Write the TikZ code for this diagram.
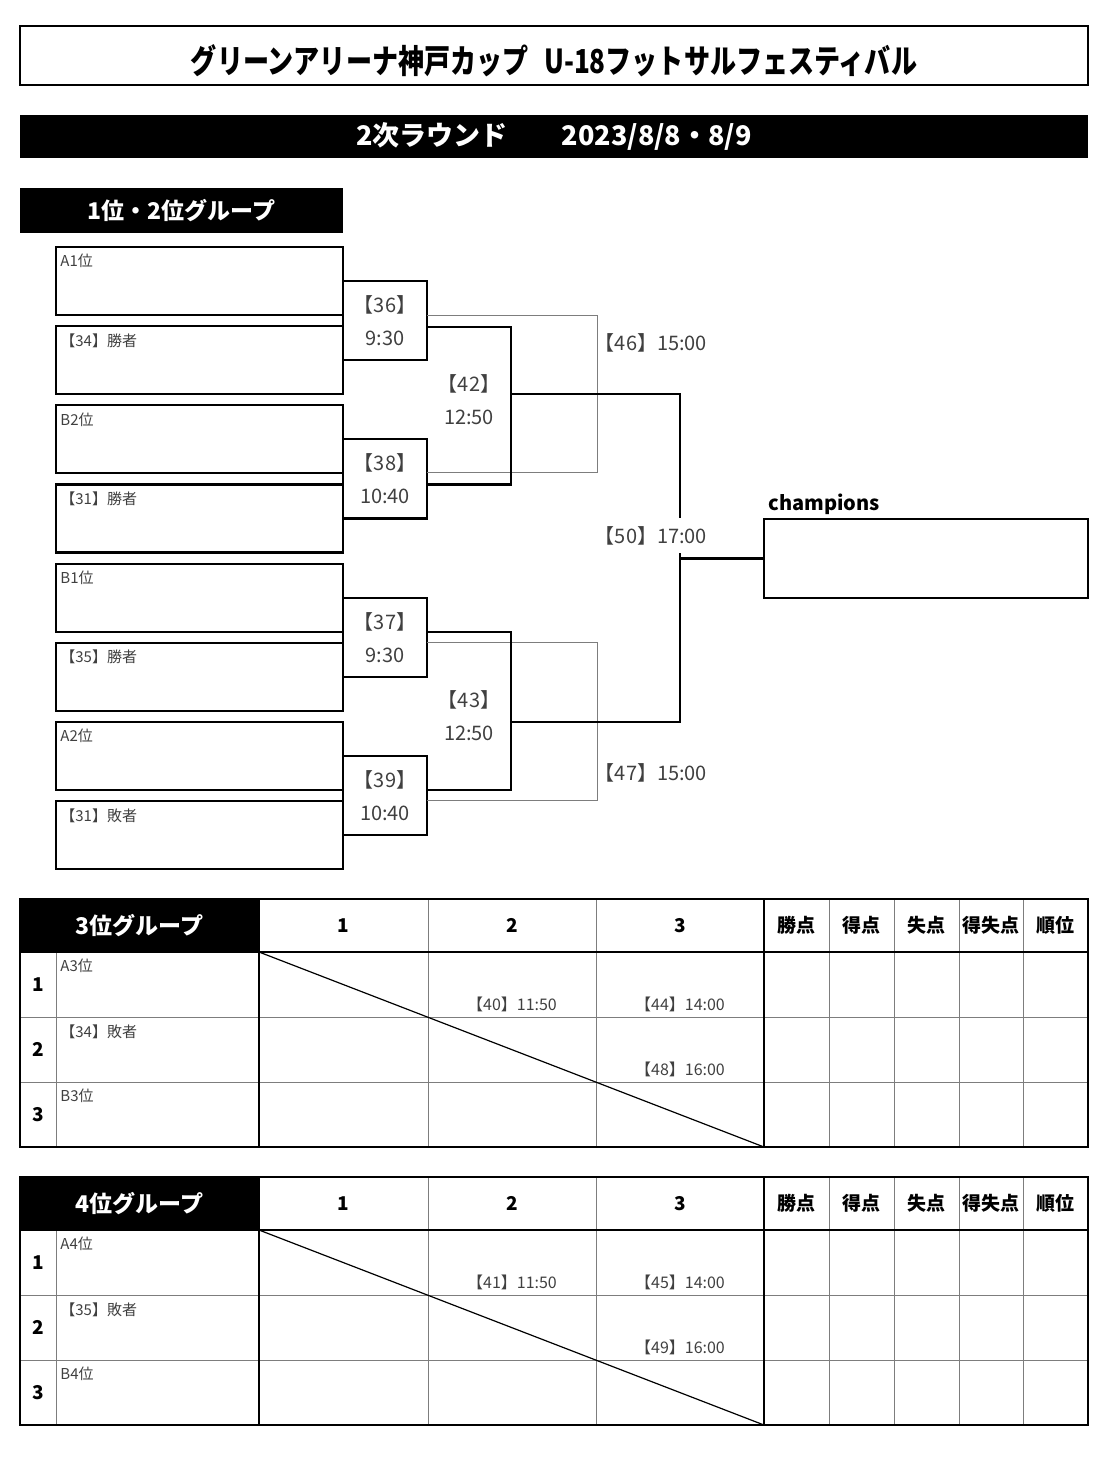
\documentclass[tikz,border=0pt]{standalone}
\usepackage{fontspec}
\setmainfont{Noto Sans CJK JP}
\usepackage{graphicx}
\usepackage{xcolor}
\definecolor{label-gray}{RGB}{64,64,64}
\definecolor{rule-gray}{RGB}{125,125,125}
\usepackage{tikz}
\usetikzlibrary{calc}

\begin{document}
\begin{tikzpicture}[x=0.5pt,y=-0.5pt,
	teambox/.style={draw,line width=1.1pt,anchor=north west,inner sep=0pt,outer sep=0pt,
		minimum width=143.5pt,minimum height=34pt},
	teamlabel/.style={anchor=north west,inner sep=2pt,yshift=-1.5pt,text=label-gray,
		font=\fontsize{7.5}{9}\selectfont},
	matchbox/.style={draw,line width=1.1pt,anchor=west,outer sep=0pt,minimum width=42pt,
		minimum height=39.6pt,align=center,text=label-gray,font=\fontsize{10}{16.5}\selectfont},
	matchlabel/.style={align=center,text=label-gray,font=\fontsize{10}{16.5}\selectfont},
	bracket/.style={line width=1.1pt},
	loserline/.style={line width=0.5pt,rule-gray},
	gridline/.style={line width=0.5pt,rule-gray},
	headbar/.style={fill=black,text=white,inner sep=0pt,font=\bfseries\fontsize{11.5}{14}\selectfont},
	colhead/.style={font=\bfseries\fontsize{9.5}{11}\selectfont},
	cellmatch/.style={text=label-gray,font=\fontsize{8}{10}\selectfont},
	]
	
	\useasboundingbox (0,0) rectangle (1110,1476);
	
	% headings
	\node[draw,line width=1.1pt,minimum width=534pt,minimum height=29.5pt,
		font=\bfseries\fontsize{16.5}{20}\selectfont] (title) at (554,55.5)
		{\raisebox{-2.5pt}[\height][\depth]{\scalebox{.79}[1]{グリーンアリーナ神戸カップ\hspace{.6em}U-18フットサルフェスティバル}}};
	\node[headbar,minimum width=534pt,minimum height=21.5pt,
		font=\bfseries\fontsize{13.5}{16}\selectfont] (round) at (554,136.5)
		{2次ラウンド　　2023/8/8・8/9};
	\node[headbar,minimum width=161.5pt,minimum height=22.5pt] (grp12) at (181.5,210.5)
		{1位・2位グループ};
	
	% entries
	\node[teambox,label={[teamlabel]north west:A1位}] (a1) at (56,247) {};
	\node[teambox,label={[teamlabel]north west:{【34】勝者}}] (w34) at (56,326.2) {};
	\node[teambox,label={[teamlabel]north west:B2位}] (b2) at (56,405.3) {};
	\node[teambox,label={[teamlabel]north west:{【31】勝者}}] (w31) at (56,484.5) {};
	\node[teambox,label={[teamlabel]north west:B1位}] (b1) at (56,563.6) {};
	\node[teambox,label={[teamlabel]north west:{【35】勝者}}] (w35) at (56,642.8) {};
	\node[teambox,label={[teamlabel]north west:A2位}] (a2) at (56,721.9) {};
	\node[teambox,label={[teamlabel]north west:{【31】敗者}}] (l31) at (56,801) {};
	
	% first games
	\node[matchbox] (m36) at ($(a1.east)!.5!(w34.east)$) {【36】\\9:30};
	\node[matchbox] (m38) at ($(b2.east)!.5!(w31.east)$) {【38】\\10:40};
	\node[matchbox] (m37) at ($(b1.east)!.5!(w35.east)$) {【37】\\9:30};
	\node[matchbox] (m39) at ($(a2.east)!.5!(l31.east)$) {【39】\\10:40};
	
	\coordinate (out42) at (511,394); % winner of 42
	\coordinate (out43) at (511,722); % winner of 43
	\coordinate (turn46) at (597,394); % losers of 36 and 38
	\coordinate (turn47) at (597,722); % losers of 37 and 39
	\coordinate (top50) at (680,518);
	\coordinate (bot50) at (680,553);
	
	\draw[loserline] ($(m36.east)+(0,-5.5)$) -| (turn46) |- ($(m38.east)+(0,-6.5)$);
	\draw[loserline] ($(m37.east)+(0,5.5)$) -| (turn47) |- ($(m39.east)+(0,5.5)$);
	
	\draw[bracket] ($(m36.east)+(0,6.5)$) -| (out42) |- ($(m38.east)+(0,5.5)$);
	\draw[bracket] ($(m37.east)+(0,-5.5)$) -| (out43) |- ($(m39.east)+(0,-5.5)$);
	
	\node[matchlabel] (m42) at (469,399.5) {【42】\\12:50};
	\node[matchlabel] (m43) at (469,716) {【43】\\12:50};
	
	% final
	\node[draw,line width=1.1pt,anchor=north west,outer sep=0pt,minimum width=162pt,
		minimum height=39.5pt,label={[anchor=south west,inner sep=1pt,xshift=1pt,yshift=1pt,
		font=\bfseries\fontsize{10}{12}\selectfont]north west:champions}] (champ) at (764,519) {};
	
	\draw[bracket] (out42) -| (top50);
	\draw[bracket] (out43) -| (bot50);
	\draw[bracket] (champ.west) -- (champ.west -| bot50);
	
	\node[matchlabel] (m46) at (651,343) {【46】15:00};
	\node[matchlabel] (m50) at (651,536) {【50】17:00};
	\node[matchlabel] (m47) at (651,773) {【47】15:00};
	
	% 3rd place group
	\node[headbar,minimum width=119.5pt,minimum height=26.5pt] (grp3) at (139.5,925.5) {3位グループ};
	\draw[gridline] (56,952) -- (56,1147) (428,899) -- (428,1147) (596,899) -- (596,1147)
		(829,899) -- (829,1147) (894,899) -- (894,1147) (959,899) -- (959,1147)
		(1023,899) -- (1023,1147) (20,1017) -- (1088,1017) (20,1082) -- (1088,1082);
	\draw[line width=0.6pt] (259,952) -- (764,1147);
	\draw[line width=1.1pt] (20,899) rectangle (1088,1147) (259,899) -- (259,1147)
		(764,899) -- (764,1147) (20,952) -- (1088,952);
	
	\node[colhead] (c3-1) at (343.5,925.5) {1};
	\node[colhead] (c3-2) at (512,925.5) {2};
	\node[colhead] (c3-3) at (680,925.5) {3};
	\node[colhead] (c3-pts) at (796.5,925.5) {勝点};
	\node[colhead] (c3-gf) at (861.5,925.5) {得点};
	\node[colhead] (c3-ga) at (926.5,925.5) {失点};
	\node[colhead] (c3-gd) at (991,925.5) {得失点};
	\node[colhead] (c3-rk) at (1055.5,925.5) {順位};
	
	\node[colhead] (r3-1) at (38,984.5) {1};
	\node[colhead] (r3-2) at (38,1049.5) {2};
	\node[colhead] (r3-3) at (38,1114.5) {3};
	\node[teamlabel] (p3-1) at (56,952) {A3位};
	\node[teamlabel] (p3-2) at (56,1017) {【34】敗者};
	\node[teamlabel] (p3-3) at (56,1082) {B3位};
	
	\node[cellmatch] (g40) at (512,1004) {【40】11:50};
	\node[cellmatch] (g44) at (680,1004) {【44】14:00};
	\node[cellmatch] (g48) at (680,1069) {【48】16:00};
	
	% 4th place group
	\node[headbar,minimum width=119.5pt,minimum height=26.5pt] (grp4) at (139.5,1203.5) {4位グループ};
	\draw[gridline] (56,1230) -- (56,1425) (428,1177) -- (428,1425) (596,1177) -- (596,1425)
		(829,1177) -- (829,1425) (894,1177) -- (894,1425) (959,1177) -- (959,1425)
		(1023,1177) -- (1023,1425) (20,1295) -- (1088,1295) (20,1360) -- (1088,1360);
	\draw[line width=0.6pt] (259,1230) -- (764,1425);
	\draw[line width=1.1pt] (20,1177) rectangle (1088,1425) (259,1177) -- (259,1425)
		(764,1177) -- (764,1425) (20,1230) -- (1088,1230);
	
	\node[colhead] (c4-1) at (343.5,1203.5) {1};
	\node[colhead] (c4-2) at (512,1203.5) {2};
	\node[colhead] (c4-3) at (680,1203.5) {3};
	\node[colhead] (c4-pts) at (796.5,1203.5) {勝点};
	\node[colhead] (c4-gf) at (861.5,1203.5) {得点};
	\node[colhead] (c4-ga) at (926.5,1203.5) {失点};
	\node[colhead] (c4-gd) at (991,1203.5) {得失点};
	\node[colhead] (c4-rk) at (1055.5,1203.5) {順位};
	
	\node[colhead] (r4-1) at (38,1262.5) {1};
	\node[colhead] (r4-2) at (38,1327.5) {2};
	\node[colhead] (r4-3) at (38,1392.5) {3};
	\node[teamlabel] (p4-1) at (56,1230) {A4位};
	\node[teamlabel] (p4-2) at (56,1295) {【35】敗者};
	\node[teamlabel] (p4-3) at (56,1360) {B4位};
	
	\node[cellmatch] (g41) at (512,1282) {【41】11:50};
	\node[cellmatch] (g45) at (680,1282) {【45】14:00};
	\node[cellmatch] (g49) at (680,1347) {【49】16:00};
	
\end{tikzpicture}
\end{document}
